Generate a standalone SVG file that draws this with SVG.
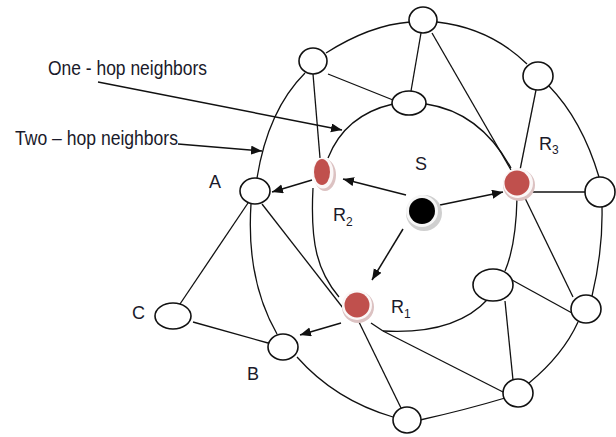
<svg xmlns="http://www.w3.org/2000/svg" width="616" height="437" viewBox="0 0 616 437">
<defs>
<style>
.e{fill:none;stroke:#111;stroke-width:1.3}
.a{fill:none;stroke:#111;stroke-width:1.5;marker-end:url(#ah)}
.n{fill:#fff;stroke:#111;stroke-width:1.6}
.t{font-family:"Liberation Sans",Arial,sans-serif;fill:#1a1a2a}
.halo{fill:#dcc2c2}
.ring{fill:#fbf7f7}
.red{fill:#c0504d}
</style>
<marker id="ah" markerUnits="userSpaceOnUse" markerWidth="12" markerHeight="10" refX="11" refY="4.5" orient="auto">
<path d="M0,0 L11,4.5 L0,9 Z" fill="#111"/>
</marker>
</defs>
<rect width="616" height="437" fill="#fff"/>
<g id="connectors">
<path class="e" d="M326,53 Q370,25 410,22"/>
<path class="e" d="M437,22 Q490,28 527,64"/>
<path class="e" d="M549,86 Q582,120 599,177"/>
<path class="e" d="M602,207 Q603,250 592,296"/>
<path class="e" d="M578,322 Q563,355 529,383"/>
<path class="e" d="M505,398 Q465,410 420,420"/>
<path class="e" d="M393,417 Q335,400 297,357"/>
<path class="e" d="M277,334 Q246,280 251,204"/>
<path class="e" d="M257,178 Q268,110 305,73"/>
<path class="e" d="M328,158 Q345,115 393,104"/>
<path class="e" d="M426,104 Q480,112 511,168"/>
<path class="e" d="M517,198 Q516,245 505,271"/>
<path class="e" d="M488,299 Q455,335 383,331"/>
<path class="e" d="M339,297 C318,272 310,245 313,188"/>
<line class="e" x1="313" y1="74" x2="320" y2="158"/>
<line class="e" x1="328" y1="74" x2="393" y2="100"/>
<line class="e" x1="421" y1="33" x2="411" y2="91"/>
<line class="e" x1="432" y1="33" x2="511" y2="170"/>
<line class="e" x1="536" y1="90" x2="520" y2="170"/>
<line class="e" x1="531" y1="192" x2="585" y2="192"/>
<line class="e" x1="524" y1="196" x2="573" y2="297"/>
<line class="e" x1="512" y1="280" x2="572" y2="313"/>
<line class="e" x1="505" y1="301" x2="513" y2="380"/>
<line class="e" x1="371" y1="323" x2="383" y2="331"/>
<line class="e" x1="383" y1="331" x2="505" y2="393"/>
<line class="e" x1="358" y1="320" x2="401" y2="408"/>
<line class="e" x1="262" y1="204" x2="343" y2="308"/>
<line class="e" x1="248" y1="203" x2="180" y2="304"/>
<line class="e" x1="193" y1="322" x2="268" y2="343"/>
<line class="a" x1="98" y1="82" x2="342" y2="130"/>
<line class="a" x1="178" y1="144" x2="262" y2="151"/>
<line class="a" x1="406" y1="195" x2="343" y2="179"/>
<line class="a" x1="312" y1="180" x2="272" y2="192"/>
<line class="a" x1="440" y1="205" x2="503" y2="192"/>
<line class="a" x1="403" y1="229" x2="372" y2="280"/>
<line class="a" x1="341" y1="323" x2="300" y2="335"/>
</g>
<g id="node-top-left"><ellipse class="n" cx="313" cy="61" rx="14" ry="13"/></g>
<g id="node-top"><ellipse class="n" cx="423" cy="20" rx="14" ry="13"/></g>
<g id="node-inner-top"><ellipse class="n" cx="409" cy="103" rx="17" ry="12"/></g>
<g id="node-top-right"><ellipse class="n" cx="538" cy="76" rx="15" ry="14"/></g>
<g id="node-right"><ellipse class="n" cx="600" cy="192" rx="15" ry="15"/></g>
<g id="node-inner-right"><ellipse class="n" cx="493" cy="285" rx="20" ry="16"/></g>
<g id="node-lower-right"><ellipse class="n" cx="586" cy="309" rx="15" ry="14"/></g>
<g id="node-bottom-right"><ellipse class="n" cx="518" cy="393" rx="15" ry="14"/></g>
<g id="node-bottom"><ellipse class="n" cx="407" cy="420" rx="14" ry="13"/></g>
<g id="node-A"><ellipse class="n" cx="255" cy="191" rx="15" ry="13"/><text class="t" x="209" y="188" font-size="18">A</text></g>
<g id="node-B"><ellipse class="n" cx="283" cy="347" rx="15" ry="13"/><text class="t" x="247" y="380" font-size="18">B</text></g>
<g id="node-C"><ellipse class="n" cx="173" cy="316" rx="18" ry="13"/><text class="t" x="132" y="319" font-size="18">C</text></g>
<g id="node-S">
<circle cx="424" cy="213" r="18" fill="#cfcfcf"/>
<circle cx="422" cy="211" r="16" fill="#f6f6f6"/>
<circle cx="422" cy="211" r="13" fill="#000"/>
<text class="t" x="415" y="170" font-size="18">S</text>
</g>
<g id="node-R1">
<circle class="halo" cx="358" cy="307" r="16"/>
<circle class="ring" cx="357" cy="305" r="15"/>
<circle class="red" cx="357" cy="305" r="12.5"/>
<text class="t" x="391" y="313" font-size="18">R<tspan font-size="12" dy="5">1</tspan></text>
</g>
<g id="node-R2">
<ellipse class="halo" cx="325" cy="175" rx="11" ry="16"/>
<ellipse class="ring" cx="323" cy="173" rx="10.5" ry="15.5"/>
<ellipse class="red" cx="322" cy="172" rx="8" ry="13"/>
<text class="t" x="333" y="221" font-size="18">R<tspan font-size="12" dy="5">2</tspan></text>
</g>
<g id="node-R3">
<circle class="halo" cx="519" cy="185" r="16"/>
<circle class="ring" cx="518" cy="183" r="15"/>
<circle class="red" cx="517" cy="183" r="12.5"/>
<text class="t" x="539" y="150" font-size="18">R<tspan font-size="12" dy="4">3</tspan></text>
</g>
<g id="labels">
<text class="t" x="48" y="75" font-size="20" textLength="159" lengthAdjust="spacingAndGlyphs">One - hop neighbors</text>
<text class="t" x="15" y="145" font-size="20" textLength="163" lengthAdjust="spacingAndGlyphs">Two – hop neighbors</text>
</g>
</svg>
